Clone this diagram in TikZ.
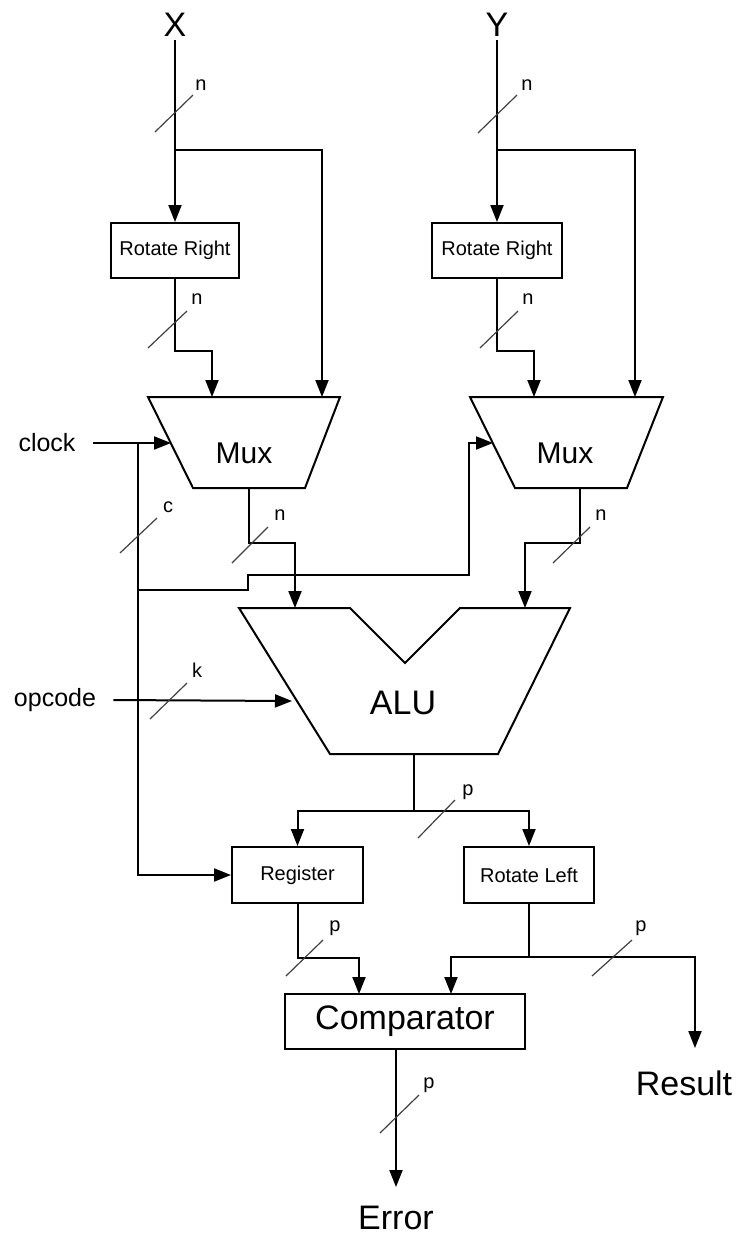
\documentclass[tikz,border=0pt]{standalone}
\usepackage{fontspec}
\setmainfont{Liberation Sans}
\usetikzlibrary{arrows.meta, positioning, calc}
\tikzset{
    unitbox/.style={draw, rectangle, line width=1pt, minimum width=64pt, minimum height=27.5pt, font=\fontsize{10}{12}\selectfont, inner sep=0pt},
    blockshape/.style={draw, line width=1pt, line join=miter},
    wire/.style={line width=1pt},
    sigarrow/.style={wire, -{Triangle[length=8.5pt, width=6.5pt]}},
    busslash/.style={line width=0.6pt, draw=black!75},
    widthlabel/.style={font=\fontsize{10}{12}\selectfont, inner sep=0pt},
    portlabel/.style={font=\fontsize{12.5}{15}\selectfont, inner sep=0pt},
    blocklabel/.style={font=\fontsize{15}{18}\selectfont, inner sep=0pt},
    biglabel/.style={font=\fontsize{17}{20}\selectfont, inner sep=1.5pt},
}

\begin{document}
\begin{tikzpicture}[x=0.5pt, y=-0.5pt]
    \useasboundingbox (0,0) rectangle (739,1238);

    % Inputs
    \node[biglabel] (inx) at (175,25) {X};
    \node[biglabel] (iny) at (497,25) {Y};
    \node[portlabel] (clk) at (47,443) {clock};
    \node[portlabel] (opc) at (55,700) {opcode};

    % Rotate right units
    \node[unitbox] (rotr1) at (175,250.5) {Rotate Right};
    \node[unitbox, minimum width=65pt] (rotr2) at (497,250.5) {Rotate Right};

    % Multiplexers
    \draw[blockshape] (148,397) -- (340,397) -- (305,488) -- (193,488) -- cycle;
    \node[blocklabel] (mux1) at (244,453) {Mux};
    \coordinate (mux1in1) at (212,397);
    \coordinate (mux1in2) at (322,397);
    \coordinate (mux1sel) at (171,443);
    \coordinate (mux1out) at (249,488);

    \draw[blockshape] (470,397) -- (663,397) -- (627,488) -- (515,488) -- cycle;
    \node[blocklabel] (mux2) at (565,453) {Mux};
    \coordinate (mux2in1) at (534,397);
    \coordinate (mux2in2) at (635,397);
    \coordinate (mux2sel) at (493,443);
    \coordinate (mux2out) at (580,488);

    % ALU
    \draw[blockshape] (239,608) -- (350,608) -- (405,663) -- (460,608) -- (570,608)
        -- (498,754) -- (330,754) -- cycle;
    \node[font=\fontsize{17}{20}\selectfont, inner sep=0pt] (alu) at (403,703) {ALU};
    \coordinate (aluin1) at (295,608);
    \coordinate (aluin2) at (525,608);
    \coordinate (aluop) at (292,701);
    \coordinate (aluout) at (414,754);

    % Output stage
    \node[unitbox, minimum width=65.5pt, minimum height=28pt] (reg) at (297.5,875) {Register};
    \node[unitbox, minimum width=65pt, minimum height=28pt] (rotl) at (529,875) {Rotate Left};
    \node[unitbox, minimum width=120pt, font=\fontsize{17}{20}\selectfont] (cmp) at (405,1021.5) {Comparator};
    \node[biglabel] (res) at (684,1083) {Result};
    \node[biglabel] (err) at (396,1218) {Error};

    % Connections: X and Y
    \coordinate (xsplit) at (175,150);
    \coordinate (ysplit) at (497,150);
    \draw[wire] (inx) -- (xsplit);
    \draw[sigarrow] (xsplit) -- (rotr1.north);
    \draw[sigarrow] (xsplit) -| (mux1in2);
    \draw[sigarrow] (rotr1.south) -- ++(0,72) -| (mux1in1);
    \draw[wire] (iny) -- (ysplit);
    \draw[sigarrow] (ysplit) -- (rotr2.north);
    \draw[sigarrow] (ysplit) -| (mux2in2);
    \draw[sigarrow] (rotr2.south) -- ++(0,72) -| (mux2in1);

    % Connections: clock
    \coordinate (clktap) at (138,443);
    \coordinate (clkjog) at (138,590);
    \draw[sigarrow] ([xshift=8.5pt]clk.east) -- (mux1sel);
    \draw[sigarrow] (clktap) |- (reg.west);
    \draw[sigarrow] (clkjog) -- (248,590) -- (248,575) -- (469,575) |- (mux2sel);

    % Connections: into and out of the ALU
    \draw[sigarrow] (mux1out) -- (249,543) -| (aluin1);
    \draw[sigarrow] (mux2out) -- (580,543) -| (aluin2);
    \draw[sigarrow] ([xshift=8.5pt]opc.east) -- (aluop);
    \coordinate (alusplit) at (414,811);
    \draw[wire] (aluout) -- (alusplit);
    \draw[sigarrow] (alusplit) -| (reg.north);
    \draw[sigarrow] (alusplit) -| (rotl.north);

    % Connections: comparator and outputs
    \coordinate (cmpin1) at (359,994);
    \coordinate (cmpin2) at (451,994);
    \coordinate (rlsplit) at (529,957);
    \draw[sigarrow] (reg.south) -- ++(0,54) -| (cmpin1);
    \draw[wire] (rotl.south) -- (rlsplit);
    \draw[sigarrow] (rlsplit) -| (cmpin2);
    \draw[sigarrow] (rlsplit) -| (695,1048);
    \draw[sigarrow] (cmp.south -| err) -- (396,1187);

    % Bus widths
    \draw[busslash] (155,132) -- (193,95);   \node[widthlabel] (wx) at (201,85) {n};
    \draw[busslash] (478,133) -- (517,95);   \node[widthlabel] (wy) at (527,85) {n};
    \draw[busslash] (148,348) -- (187,311);  \node[widthlabel] (wr1) at (197,299) {n};
    \draw[busslash] (480,348) -- (518,311);  \node[widthlabel] (wr2) at (528,299) {n};
    \draw[busslash] (120,553) -- (157,518);  \node[widthlabel] (wc) at (168,507) {c};
    \draw[busslash] (232,563) -- (268,527);  \node[widthlabel] (wm1) at (280,515) {n};
    \draw[busslash] (553,563) -- (590,527);  \node[widthlabel] (wm2) at (601,515) {n};
    \draw[busslash] (150,719) -- (187,683);  \node[widthlabel] (wk) at (197,670) {k};
    \draw[busslash] (418,838) -- (455,800);  \node[widthlabel] (wa) at (468,792) {p};
    \draw[busslash] (286,976) -- (323,940);  \node[widthlabel] (wrg) at (335,928) {p};
    \draw[busslash] (592,976) -- (632,940);  \node[widthlabel] (wrl) at (641,928) {p};
    \draw[busslash] (380,1133) -- (419,1095); \node[widthlabel] (wcm) at (429,1085) {p};
\end{tikzpicture}
\end{document}
